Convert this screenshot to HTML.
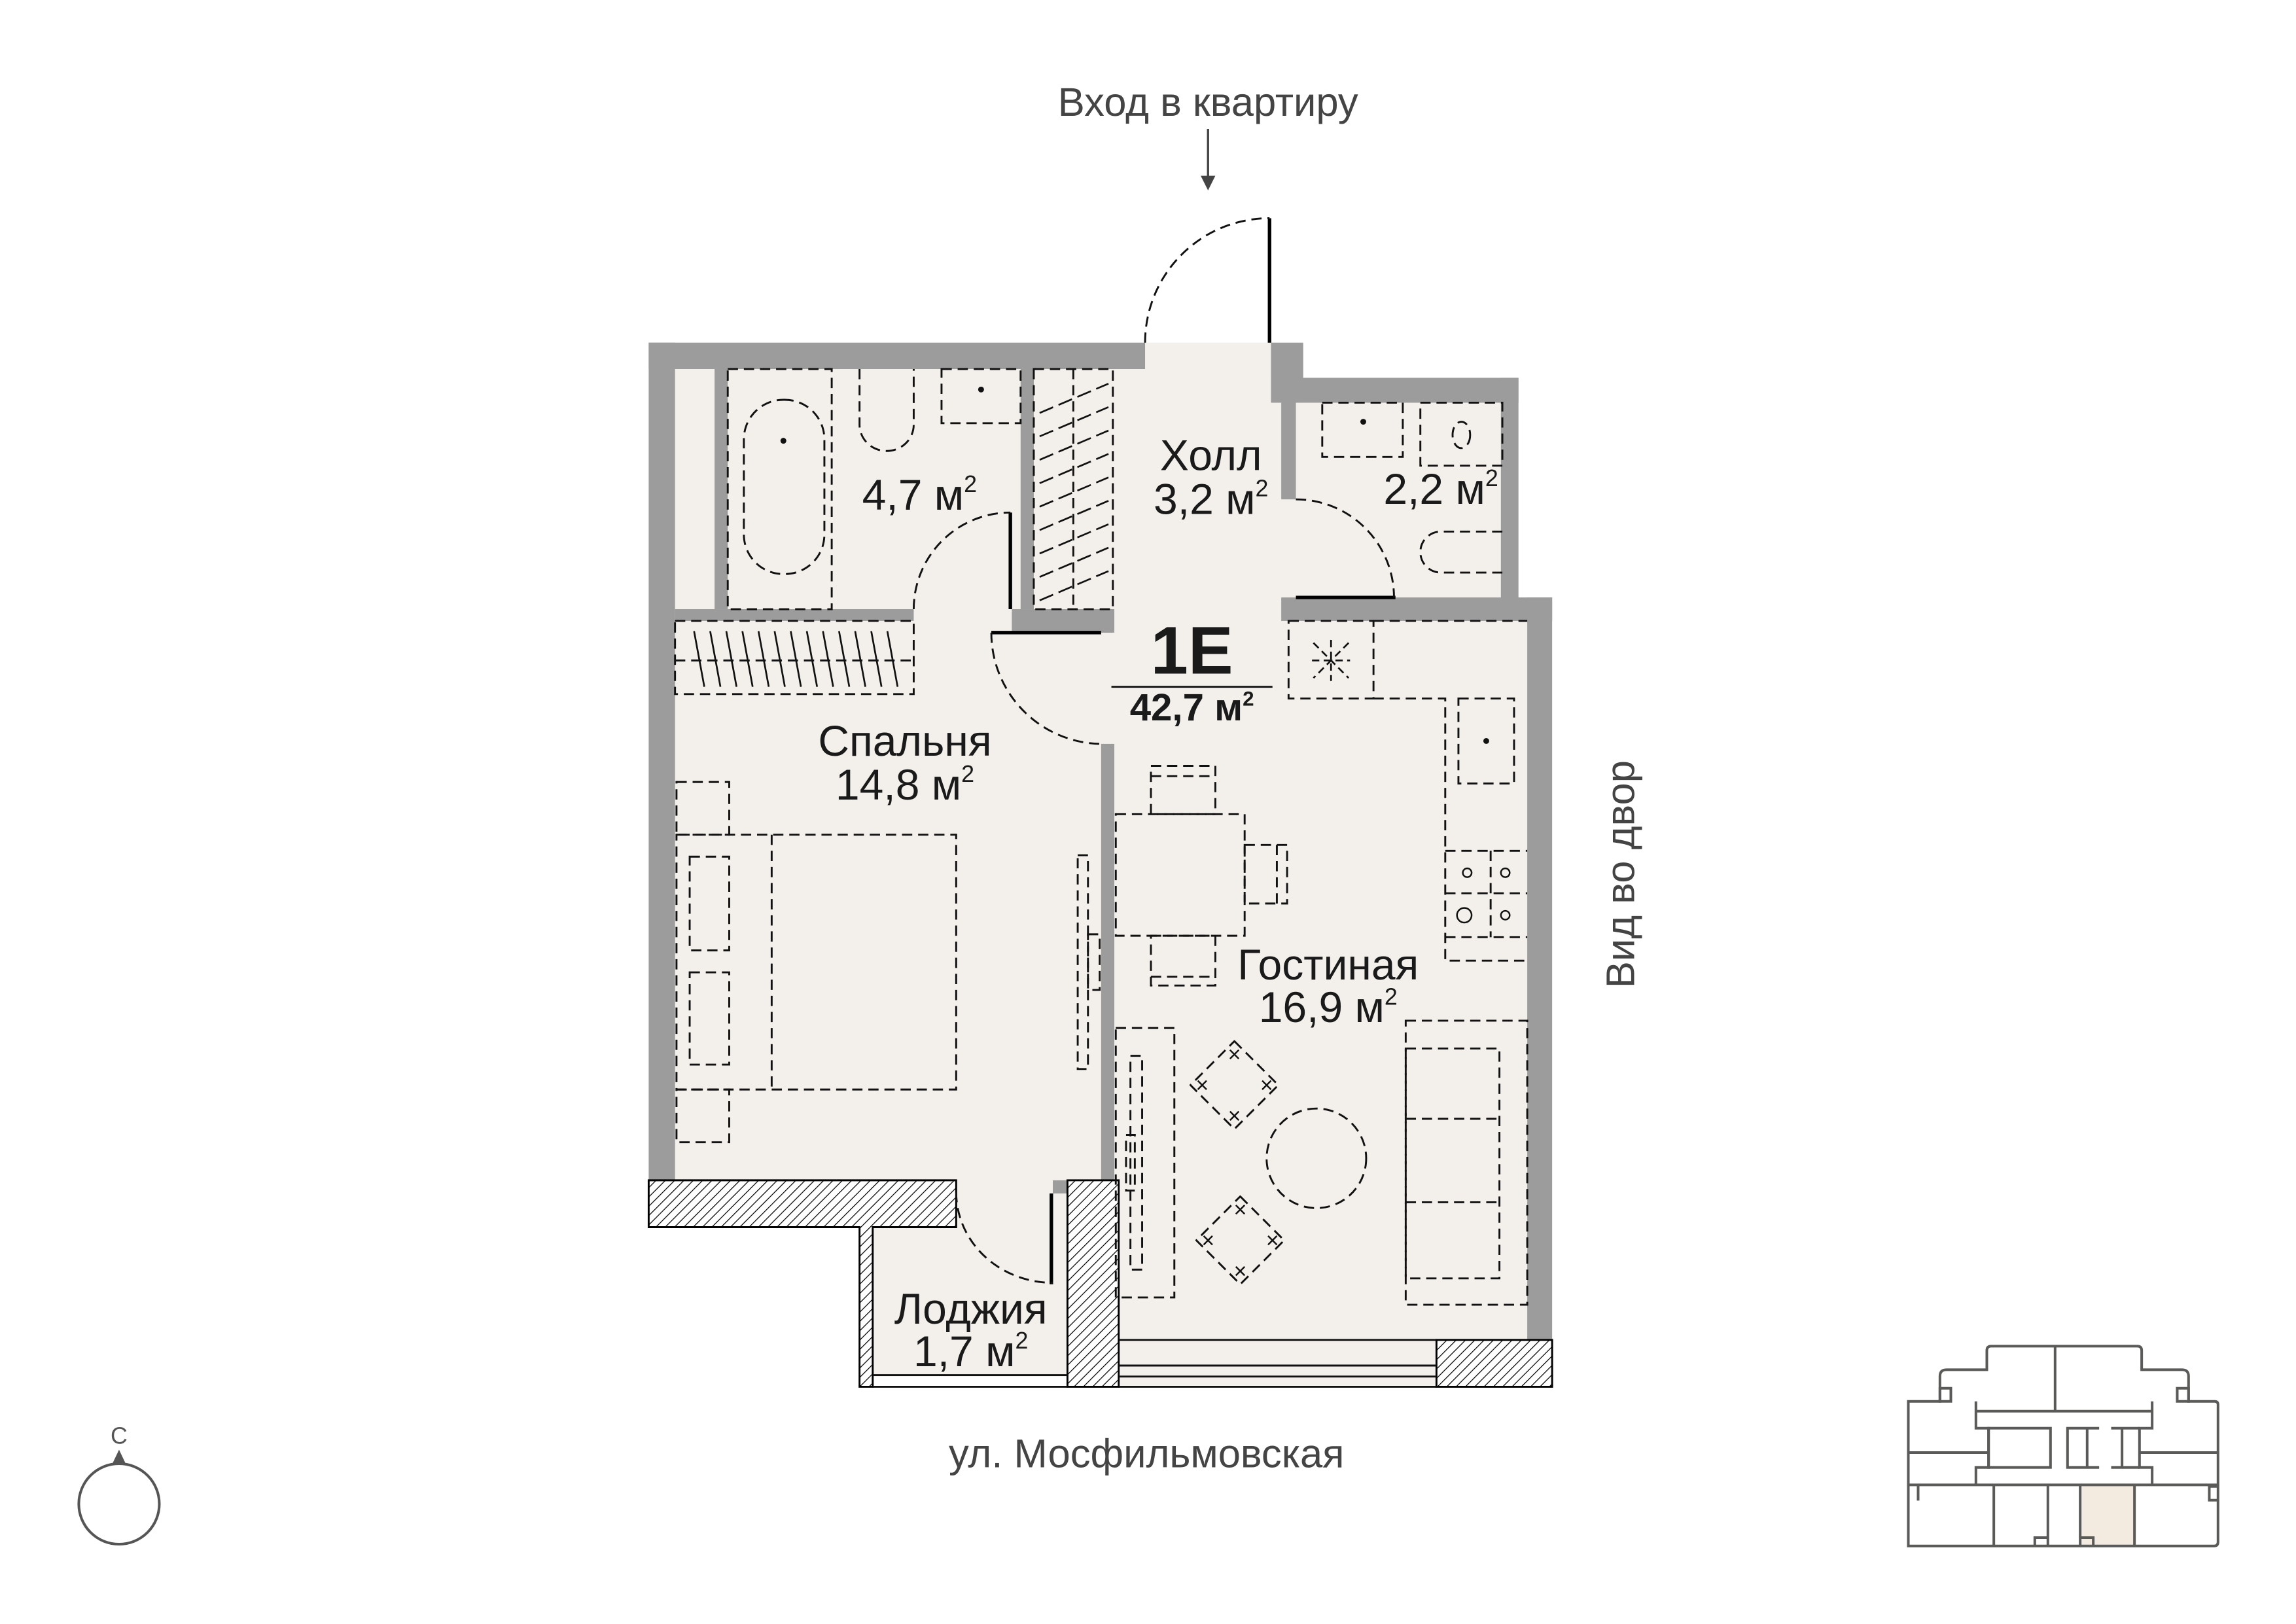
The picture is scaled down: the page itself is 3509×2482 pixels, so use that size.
<!DOCTYPE html>
<html><head><meta charset="utf-8">
<style>
html,body{margin:0;padding:0;background:#fff;}
svg{display:block;}
text{font-family:"Liberation Sans",sans-serif;fill:#1a1a1a;}
</style></head>
<body>
<svg width="3509" height="2482" viewBox="0 0 1568 1109" preserveAspectRatio="none" xmlns="http://www.w3.org/2000/svg">
<defs>
<pattern id="h" patternUnits="userSpaceOnUse" width="4.5" height="4.5" patternTransform="rotate(45)">
<rect width="4.5" height="4.5" fill="#fff"/>
<line x1="0" y1="0" x2="0" y2="4.5" stroke="#000" stroke-width="1.1"/>
</pattern>
</defs>
<rect width="1568" height="1109" fill="#fff"/>

<!-- interior fill -->
<g fill="#f3efeb">
<rect x="461" y="252" width="322" height="554"/>
<rect x="782" y="234" width="86" height="200"/>
<rect x="760" y="275" width="265" height="141"/>
<rect x="760" y="408" width="284" height="507"/>
<rect x="596" y="806" width="134" height="134"/>
<rect x="764" y="914" width="217" height="33"/>
</g>

<!-- gray walls -->
<g fill="#9c9c9c">
<rect x="443" y="234" width="339" height="18"/>
<rect x="443" y="234" width="18" height="574"/>
<rect x="868" y="234" width="22" height="41"/>
<rect x="868" y="258" width="169" height="17"/>
<rect x="1025" y="258" width="12" height="166"/>
<rect x="875" y="408" width="185" height="16"/>
<rect x="1043" y="408" width="17" height="507"/>
<rect x="875" y="275" width="10" height="66"/>
<rect x="488" y="252" width="9" height="164"/>
<rect x="461" y="416" width="163" height="8"/>
<rect x="697" y="252" width="9" height="164"/>
<rect x="691" y="416" width="69" height="16"/>
<rect x="752" y="416" width="9" height="16"/>
<rect x="752" y="508" width="9" height="298"/>
<rect x="719" y="806" width="11" height="9"/>
</g>

<!-- hatched walls -->
<g fill="url(#h)" stroke="#000" stroke-width="1.3">
<path d="M443 806 H653 V838 H596 V947 H587 V838 H443 Z"/>
<rect x="729" y="806" width="35" height="141"/>
<rect x="981" y="915" width="79" height="32"/>
</g>

<!-- windows -->
<g stroke="#111" stroke-width="1.3">
<line x1="764" y1="915" x2="981" y2="915"/>
<line x1="764" y1="932.5" x2="981" y2="932.5"/>
<line x1="764" y1="940" x2="981" y2="940"/>
<line x1="764" y1="947" x2="981" y2="947"/>
<line x1="596" y1="939" x2="729" y2="939"/>
<line x1="596" y1="947" x2="729" y2="947"/>
</g>

<!-- door leaves (black) -->
<g stroke="#000" stroke-width="2.4" fill="none">
<line x1="867" y1="149" x2="867" y2="234"/>
<line x1="885" y1="408" x2="953" y2="408"/>
<line x1="690" y1="350" x2="690" y2="416"/>
<line x1="677" y1="432" x2="752" y2="432"/>
<line x1="718" y1="815" x2="718" y2="877"/>
</g>

<!-- dashed furniture -->
<g stroke="#111" stroke-width="1.3" fill="none" stroke-dasharray="7 4">
<path d="M782 234 A85 85 0 0 1 867 149"/>
<path d="M885 341 A67 67 0 0 1 952 408"/>
<path d="M624 416 A66 66 0 0 1 690 350"/>
<path d="M677 432 A76 76 0 0 0 753 508"/>
<path d="M653 814 A66 62 0 0 0 719 876"/>
<rect x="497" y="252" width="71" height="164"/>
<rect x="508" y="273" width="55" height="119" rx="27" ry="27"/>
<path d="M587 252 V290 A18.5 18 0 0 0 624 290 V252"/>
<rect x="643" y="252" width="54" height="37"/>
<rect x="706" y="252" width="54" height="164"/>
<line x1="733" y1="252" x2="733" y2="416"/>
<rect x="903" y="275" width="55" height="37"/>
<rect x="970" y="275" width="56" height="43"/>
<ellipse cx="998" cy="297" rx="6" ry="9"/>
<path d="M1026 363 H984 A14 14 0 0 0 984 391 H1026"/>
<rect x="461" y="424" width="163" height="50"/>
<line x1="461" y1="451" x2="624" y2="451"/>
<rect x="880" y="424" width="58" height="53"/>
<path d="M938 424 H1043 M938 477 H987 V656 H1043"/>
<rect x="996" y="477" width="38" height="58"/>
<path d="M987 581 H1043 M987 640 H1043 M1018 581 V640 M987 610 H1043"/>
<rect x="462" y="534" width="36" height="36"/>
<rect x="462" y="570" width="191" height="174"/>
<line x1="527" y1="570" x2="527" y2="744"/>
<rect x="471" y="585" width="27" height="64"/>
<rect x="471" y="664" width="27" height="63"/>
<rect x="462" y="744" width="36" height="36"/>
<rect x="736" y="584" width="7" height="146"/>
<rect x="743" y="638" width="8" height="38"/>
<rect x="762" y="556" width="88" height="83"/>
<rect x="786" y="523" width="44" height="33"/>
<line x1="786" y1="530" x2="830" y2="530"/>
<rect x="850" y="577" width="29" height="40"/>
<line x1="872" y1="577" x2="872" y2="617"/>
<rect x="786" y="639" width="44" height="34"/>
<line x1="786" y1="667" x2="830" y2="667"/>
<rect x="762" y="702" width="40" height="184"/>
<rect x="772" y="721" width="8" height="146"/>
<rect x="769" y="775" width="6" height="38"/>
<path d="M843 711 L873 741 L843 771 L813 741 Z" stroke-linejoin="round"/>
<path d="M847 817 L877 847 L847 877 L817 847 Z" stroke-linejoin="round"/>
<circle cx="899" cy="791" r="34"/>
<rect x="960" y="697" width="83" height="194"/>
<rect x="960" y="716" width="64" height="157"/>
<line x1="960" y1="764" x2="1024" y2="764"/>
<line x1="960" y1="821" x2="1024" y2="821"/>
</g>

<!-- hatch in closets -->
<g stroke="#111" stroke-width="1.2">
<path d="M710 282 L757 262 M710 298 L757 278 M710 314 L757 294 M710 330 L757 310 M710 346 L757 326 M710 362 L757 342 M710 378 L757 358 M710 394 L757 374 M710 410 L757 390" stroke-dasharray="10 4"/>
<path d="M474 431 L481 469 M485 431 L492 469 M496 431 L503 469 M507 431 L514 469 M518 431 L525 469 M529 431 L536 469 M540 431 L547 469 M551 431 L558 469 M562 431 L569 469 M573 431 L580 469 M584 431 L591 469 M595 431 L602 469 M606 431 L613 469"/>
<path d="M897 439 L921 463 M921 439 L897 463 M909 437 V465 M896 451 H922" stroke-dasharray="5 3"/>
</g>

<g fill="#111">
<circle cx="535" cy="301" r="2"/>
<circle cx="670" cy="266" r="2"/>
<circle cx="931" cy="288" r="2"/>
<circle cx="1015" cy="506" r="2"/>
</g>
<g stroke="#111" stroke-width="1.1" fill="none">
<circle cx="1002" cy="596" r="3"/><circle cx="1028" cy="596" r="3"/>
<circle cx="1000" cy="625" r="5"/><circle cx="1028" cy="625" r="3"/>
<path d="M840 717 l6 6 m0 -6 l-6 6 M818 738 l6 6 m0 -6 l-6 6 M862 738 l6 6 m0 -6 l-6 6 M840 759 l6 6 m0 -6 l-6 6"/>
<path d="M844 823 l6 6 m0 -6 l-6 6 M822 844 l6 6 m0 -6 l-6 6 M866 844 l6 6 m0 -6 l-6 6 M844 865 l6 6 m0 -6 l-6 6"/>
</g>

<!-- labels -->
<g font-size="29.5" text-anchor="middle">
<text x="628" y="348">4,7 м<tspan font-size="16" dy="-12">2</tspan></text>
<text x="827" y="321">Холл</text>
<text x="827" y="351">3,2 м<tspan font-size="16" dy="-12">2</tspan></text>
<text x="984" y="344">2,2 м<tspan font-size="16" dy="-12">2</tspan></text>
<text x="618" y="516">Спальня</text>
<text x="618" y="546">14,8 м<tspan font-size="16" dy="-12">2</tspan></text>
<text x="907" y="669">Гостиная</text>
<text x="907" y="698">16,9 м<tspan font-size="16" dy="-12">2</tspan></text>
<text x="663" y="904">Лоджия</text>
<text x="663" y="933">1,7 м<tspan font-size="16" dy="-12">2</tspan></text>
</g>
<text x="814" y="460" font-size="46" font-weight="bold" text-anchor="middle">1E</text>
<line x1="759" y1="469" x2="869" y2="469" stroke="#111" stroke-width="1.3"/>
<text x="814" y="492" font-size="26" font-weight="bold" text-anchor="middle">42,7 м<tspan font-size="14" dy="-10">2</tspan></text>

<g font-size="27.5" text-anchor="middle">
<text x="825" y="79" style="fill:#444">Вход в квартиру</text>
<text x="783" y="1002" style="fill:#444">ул. Мосфильмовская</text>
<text x="0" y="0" transform="translate(1116 597) rotate(-90)" style="fill:#444">Вид во двор</text>
</g>
<line x1="825" y1="88" x2="825" y2="127" stroke="#444" stroke-width="1.5"/>
<path d="M820 120 L825 130 L830 120 Z" fill="#444"/>

<circle cx="81.3" cy="1027" r="27.5" fill="none" stroke="#555" stroke-width="1.8"/>
<path d="M81.3 990 L77 999 L85.6 999 Z" fill="#555"/>
<text x="81.3" y="986" font-size="16" text-anchor="middle" style="fill:#555">С</text>

<g transform="translate(1309.2 916) scale(0.14894)" fill="none" stroke="#5a5a58" stroke-width="12">
<rect x="748" y="658" width="249" height="280" fill="#f3ebe0" stroke="none"/>
<path d="M105 275 L105 160 Q105 130 135 130 L320 130 L320 42 Q320 22 340 22 L1010 22 Q1030 22 1030 42 L1030 130 L1215 130 Q1245 130 1245 160 L1245 275 L1365 275 Q1380 275 1380 290 L1380 920 Q1380 938 1362 938 L-40 938 L-40 275 Z"/>
<rect x="105" y="215" width="50" height="60"/>
<rect x="1193" y="215" width="52" height="60"/>
<line x1="633" y1="22" x2="633" y2="320"/>
<path d="M270 275 V398 H328 V578 H270 V658"/>
<path d="M1078 275 V398 H1020 V578 H1078 V658"/>
<line x1="270" y1="320" x2="1078" y2="320"/>
<line x1="-40" y1="658" x2="1380" y2="658"/>
<line x1="-40" y1="510" x2="328" y2="510"/>
<line x1="1020" y1="510" x2="1380" y2="510"/>
<rect x="328" y="398" width="284" height="180"/>
<path d="M835 398 H690 V578 H835 M780 398 V578"/>
<path d="M890 398 H1020 M890 578 H1020 M940 398 V578"/>
<path d="M352 658 V938 M600 658 V938 M748 658 V938 M997 658 V938"/>
<path d="M540 938 V900 H600 M748 900 H808 V938"/>
<path d="M1380 665 H1340 V728 H1380"/>
<path d="M5 658 V730"/>
</g>
</svg>
</body></html>
